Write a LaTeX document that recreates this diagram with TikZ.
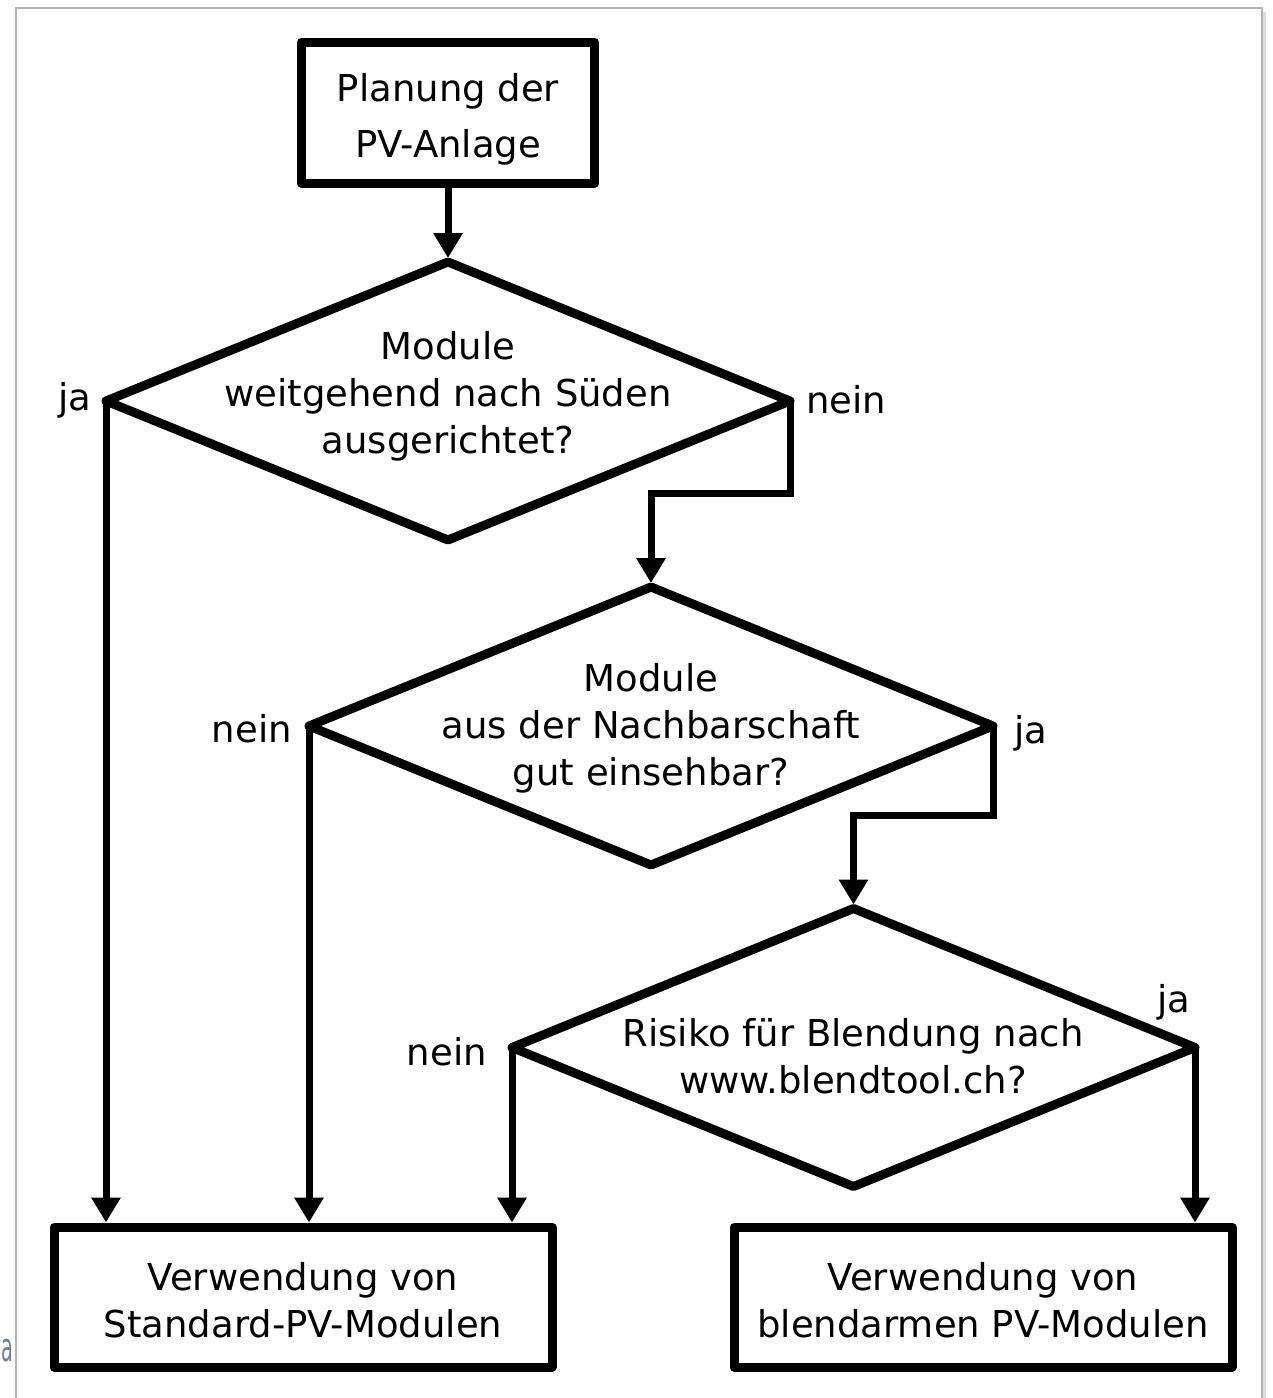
\documentclass[tikz,border=0pt]{standalone}
\usepackage{fontspec}
\setmainfont{DejaVu Sans}
\usetikzlibrary{shapes.geometric,arrows.meta}
\definecolor{framegray}{HTML}{B4B4B4}
\definecolor{shadowgray}{HTML}{DDDDDD}
\definecolor{slate}{HTML}{6B8299}
\begin{document}
\begin{tikzpicture}[x=1pt,y=-1pt,
  boxnode/.style={draw, line width=9pt, line join=round, minimum width=#1, minimum height=141pt, inner sep=0pt},
  dianode/.style={draw, shape=diamond, line width=9pt, line join=round, minimum width=684pt, minimum height=278pt, inner sep=0pt, outer sep=0pt},
  txt/.style={align=center, inner sep=0pt, font=\fontsize{37}{47}\selectfont},
  lbl/.style={inner sep=0pt, font=\fontsize{37}{47}\selectfont},
  conn/.style={line width=7pt, -{Triangle[width=28pt,length=25pt]}}
]
\useasboundingbox (0,0) rectangle (1273,1398);
\clip (0,0) rectangle (1273,1398);
\fill[white] (0,0) rectangle (1273,1398);
% page frame
\draw[shadowgray, line width=3pt] (1264.5,12) -- (1264.5,1420);
\draw[framegray, line width=1.5pt] (16,1420) -- (16,8) -- (1262,8) -- (1262,1420);
\node[anchor=base west, inner sep=0pt, text=slate, font=\fontsize{40}{48}\selectfont] (stray) at (1,1361) {\scalebox{0.48}[1]{a}};

% boxes
\node[boxnode=293pt] (b1) at (448,112.5) {};
\node[txt, font=\fontsize{37}{56}\selectfont] (t1) at (448,119) {Planung der\\PV-Anlage};
\node[boxnode=498pt, minimum height=140pt] (bstd) at (303,1297) {};
\node[txt] (tstd) at (303,1300) {Verwendung von\\Standard-PV-Modulen};
\node[boxnode=498pt, minimum height=140pt] (bbl) at (983,1297) {};
\node[txt] (tbl) at (983,1300) {Verwendung von\\blendarmen PV-Modulen};

% diamonds
\node[dianode] (d1) at (448,401) {};
\node[txt] (td1) at (448,396) {Module\\weitgehend nach Süden\\ausgerichtet?};
\node[dianode] (d2) at (651,726) {};
\node[txt] (td2) at (651,728) {Module\\aus der Nachbarschaft\\gut einsehbar?};
\node[dianode, minimum width=683pt] (d3) at (853.5,1047.5) {};
\node[txt] (td3) at (853,1056) {Risiko für Blendung nach\\www.blendtool.ch?};

% labels
\node[lbl, anchor=base] (l1ja) at (75,410) {ja};
\node[lbl, anchor=base west] (l1nein) at (806,413) {nein};
\node[lbl, anchor=base east] (l2nein) at (292,742) {nein};
\node[lbl, anchor=base west] (l2ja) at (1014,743) {ja};
\node[lbl, anchor=base east] (l3nein) at (487,1065) {nein};
\node[lbl, anchor=base] (l3ja) at (1174,1012) {ja};

% connectors
\draw[conn, shorten >=4pt] (b1.south) -- (d1.north);
\draw[conn, shorten >=4pt] (d1.east) -- ++(0,92) -| (d2.north);
\draw[conn, shorten >=4pt] (d2.east) -- ++(0,89) -| (d3.north);
\draw[conn] (d1.west) -- (d1.west |- bstd.north);
\draw[conn] (d2.west) -- (d2.west |- bstd.north);
\draw[conn] (d3.west) -- (d3.west |- bstd.north);
\draw[conn] (d3.east) -- (d3.east |- bbl.north);
\end{tikzpicture}
\end{document}
